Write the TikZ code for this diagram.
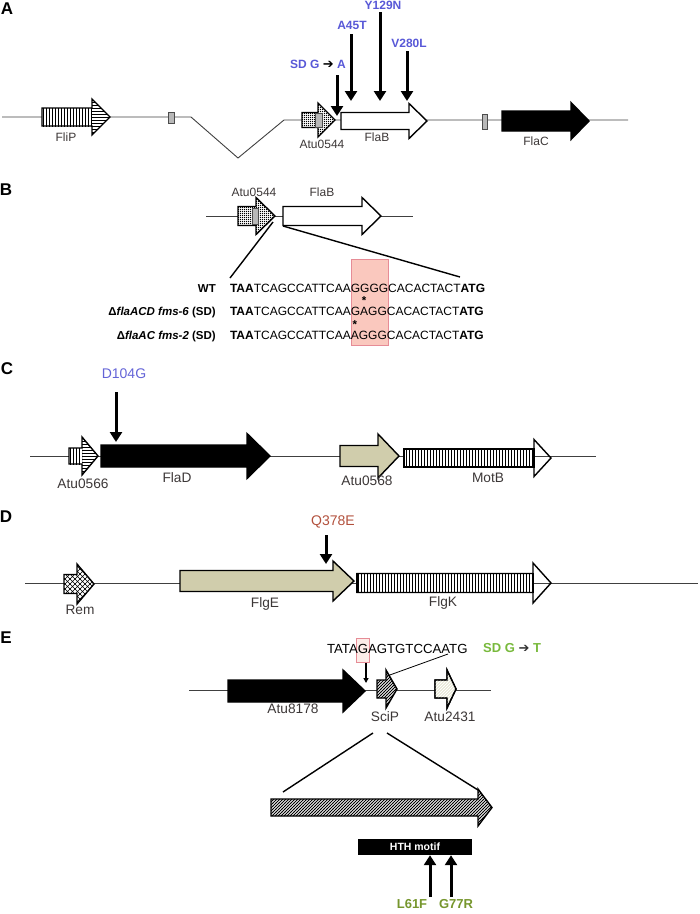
\documentclass[tikz,border=0pt]{standalone}
\usepackage{fontspec}
\setmainfont{Liberation Sans}
\newfontfamily\djv{DejaVu Sans}
\usetikzlibrary{patterns,arrows.meta,backgrounds}

\definecolor{lblc}{RGB}{60,55,55}
\definecolor{bluA}{RGB}{88,88,215}
\definecolor{bluC}{RGB}{100,100,215}
\definecolor{redD}{RGB}{178,80,60}
\definecolor{grnE}{RGB}{120,185,60}
\definecolor{grnL}{RGB}{118,150,45}
\definecolor{khaki}{RGB}{208,205,172}
\definecolor{khakiL}{RGB}{228,228,208}
\definecolor{pinkF}{RGB}{250,200,190}
\definecolor{pinkD}{RGB}{230,140,150}

\pgfdeclarepatternformonly{vstripes}{\pgfqpoint{-1pt}{-1pt}}{\pgfqpoint{4pt}{4pt}}{\pgfqpoint{3pt}{3pt}}{%
  \pgfsetlinewidth{0.9pt}%
  \pgfpathmoveto{\pgfqpoint{1.5pt}{-1pt}}\pgfpathlineto{\pgfqpoint{1.5pt}{4pt}}\pgfusepath{stroke}}
\pgfdeclarepatternformonly{hstripes}{\pgfqpoint{-1pt}{-1pt}}{\pgfqpoint{4pt}{4pt}}{\pgfqpoint{3pt}{3pt}}{%
  \pgfsetlinewidth{0.9pt}%
  \pgfpathmoveto{\pgfqpoint{-1pt}{1.5pt}}\pgfpathlineto{\pgfqpoint{4pt}{1.5pt}}\pgfusepath{stroke}}
\pgfdeclarepatternformonly{nestripes}{\pgfqpoint{-1pt}{-1pt}}{\pgfqpoint{4pt}{4pt}}{\pgfqpoint{3pt}{3pt}}{%
  \pgfsetlinewidth{0.8pt}%
  \pgfpathmoveto{\pgfqpoint{-0.2pt}{-0.2pt}}\pgfpathlineto{\pgfqpoint{3.2pt}{3.2pt}}\pgfusepath{stroke}}
\pgfdeclarepatternformonly{densedots}{\pgfqpoint{0pt}{0pt}}{\pgfqpoint{2pt}{2pt}}{\pgfqpoint{2pt}{2pt}}{%
  \pgfpathrectangle{\pgfqpoint{0pt}{0pt}}{\pgfqpoint{1.5pt}{1.5pt}}\pgfusepath{fill}}
\pgfdeclarepatternformonly{diamonds}{\pgfqpoint{-1pt}{-1pt}}{\pgfqpoint{6pt}{6pt}}{\pgfqpoint{5pt}{5pt}}{%
  \pgfsetlinewidth{0.7pt}%
  \pgfpathmoveto{\pgfqpoint{-0.5pt}{-0.5pt}}\pgfpathlineto{\pgfqpoint{5.5pt}{5.5pt}}%
  \pgfpathmoveto{\pgfqpoint{-0.5pt}{5.5pt}}\pgfpathlineto{\pgfqpoint{5.5pt}{-0.5pt}}\pgfusepath{stroke}}

% style, x0, x head, x tip, y centre, body half, head half
\newcommand{\gene}[7]{\path[#1] (#2,#5-#6) -- (#3,#5-#6) -- (#3,#5-#7) -- (#4,#5) -- (#3,#5+#7) -- (#3,#5+#6) -- (#2,#5+#6) -- cycle;}
% split-pattern gene: head horizontal stripes
\newcommand{\splitgene}[5]{%
  \fill[white] (#1,#4-#5) rectangle (#2,#4+#5);
  \fill[white] (#2,#4-#5) -- (#3,#4) -- (#2,#4+#5) -- cycle;
  \fill[pattern=hstripes] (#2,#4-#5) -- (#3,#4) -- (#2,#4+#5) -- cycle;}

\begin{document}
\begin{tikzpicture}[x=1pt,y=-1pt,
  gout/.style={draw=black,line width=1.4pt,line join=miter},
  bline/.style={draw=black!75,line width=0.9pt},
  zline/.style={draw=black,line width=1.4pt},
  mut/.style={draw=black,line width=3pt,-{Triangle[length=10pt,width=12pt]}},
  thinarrow/.style={draw=black,line width=1.2pt,-{Triangle[length=5pt,width=5pt]}},
  graybox/.style={fill=black!28,draw=black!70,line width=0.6pt},
  glabel/.style={font=\fontsize{12}{14}\selectfont,text=lblc,inner sep=0pt},
  glabelL/.style={font=\fontsize{13.7}{15}\selectfont,text=lblc,inner sep=0pt},
  plabel/.style={font=\fontsize{17}{19}\selectfont\bfseries,inner sep=0pt},
  mutA/.style={font=\fontsize{12}{14}\selectfont\bfseries,text=bluA,inner sep=0pt},
  mutC/.style={font=\fontsize{14}{16}\selectfont,inner sep=0pt},
  seq/.style={font=\fontsize{12}{14}\selectfont,inner sep=0pt,outer sep=0pt,anchor=base west},
  seqE/.style={font=\fontsize{13.2}{15}\selectfont,inner sep=0pt,outer sep=0pt,anchor=base west},
  rowlab/.style={font=\fontsize{11.5}{14}\selectfont\bfseries,inner sep=0pt,anchor=base east},
  ast/.style={font=\fontsize{11.5}{13}\selectfont\bfseries,inner sep=0pt,anchor=base},
  mutE/.style={font=\fontsize{13}{15}\selectfont\bfseries,text=grnL,inner sep=0pt}]
\useasboundingbox (0,0) rectangle (700,914);

%%%%%%%%%%%%%%%% Panel A
\node[plabel] (pA) at (7,9) {A};
\draw[bline] (2,117) -- (191,117) -- (238,158) -- (284,120) -- (628,120);
\draw[graybox] (168,112) rectangle (174,123);
\draw[graybox] (482,114) rectangle (487,129);
\splitgene{42}{92}{110}{117}{18}
\fill[pattern=vstripes] (42,108) rectangle (92,126);
\gene{gout}{42}{92}{110}{117}{9}{18}
\gene{gout,preaction={fill=white},pattern=densedots}{302}{318}{335}{120}{7.5}{17}
\draw[graybox] (315,113) rectangle (322,127);
\gene{gout,fill=white}{341}{409}{427}{121}{8.5}{17.5}
\gene{gout,fill=black}{502}{571}{589}{121}{10}{18.5}
\node[glabel] (lFliP) at (66,137) {FliP};
\node[glabel] (lAtuA) at (322,144) {Atu0544};
\node[glabel] (lFlaB) at (377,137) {FlaB};
\node[glabel] (lFlaC) at (536,141) {FlaC};
\node[mutA] (mSD) at (318,64) {SD G {\djv\color{black}\fontsize{13}{14}\selectfont ➔} A};
\node[mutA] (mA45) at (352,25) {A45T};
\node[mutA] (mY129) at (383,5.5) {Y129N};
\node[mutA] (mV280) at (409,43) {V280L};
\coordinate (s1a) at (337,75);  \coordinate (s1b) at (337,116);
\coordinate (s2a) at (351,34);  \coordinate (s2b) at (351,101);
\coordinate (s3a) at (380,12);  \coordinate (s3b) at (380,101);
\coordinate (s4a) at (407,51);  \coordinate (s4b) at (407,101);
\draw[mut] (s1a) -- (s1b);
\draw[mut] (s2a) -- (s2b);
\draw[mut] (s3a) -- (s3b);
\draw[mut] (s4a) -- (s4b);

%%%%%%%%%%%%%%%% Panel B
\node[plabel] (pB) at (6,190) {B};
\draw[bline] (206,216) -- (413,216);
\gene{gout,preaction={fill=white},pattern=densedots}{238}{256}{275}{216}{9.5}{18.5}
\draw[graybox] (252,208) rectangle (258,224);
\gene{gout,fill=white}{283}{362}{381}{216}{9.5}{18.5}
\node[glabel] (lAtuB) at (254,192) {Atu0544};
\node[glabel] (lFlaBB) at (322,192) {FlaB};
\coordinate (zb1) at (273,222); \coordinate (zb2) at (230,278);
\coordinate (zb3) at (283,226); \coordinate (zb4) at (460,277);
\draw[zline] (zb1) -- (zb2);
\draw[zline] (zb3) -- (zb4);

\node[seq] (r1a) at (230,292.3) {\textbf{TAA}TCAGCCATTCAA};
\node[seq] (r1b) at (r1a.base east) {GGGG};
\node[seq] (r1c) at (r1b.base east) {CACACTACT\textbf{ATG}};
\node[seq] (r2a) at (230,315.3) {\textbf{TAA}TCAGCCATTCAA};
\node[seq] (r2b) at (r2a.base east) {G};
\node[seq] (r2c) at (r2b.base east) {A};
\node[seq] (r2d) at (r2c.base east) {GG};
\node[seq] (r2e) at (r2d.base east) {CACACTACT\textbf{ATG}};
\node[seq] (r3a) at (230,339.3) {\textbf{TAA}TCAGCCATTCAA};
\node[seq] (r3b) at (r3a.base east) {A};
\node[seq] (r3c) at (r3b.base east) {GGG};
\node[seq] (r3d) at (r3c.base east) {CACACTACT\textbf{ATG}};
\node[rowlab] (wt) at (216,292.3) {WT};
\node[rowlab] (fms6) at (216,315.3) {Δ\textit{flaACD fms-6} (SD)};
\node[rowlab] (fms2) at (216,339.3) {Δ\textit{flaAC fms-2} (SD)};
\coordinate (as2) at (0,304.8);
\coordinate (as3) at (0,328.8);
\node[ast] (st2) at (r2c.base |- as2) {*};
\node[ast] (st3) at (r3b.base |- as3) {*};
\coordinate (pk1) at (0,259);
\coordinate (pk2) at (0,345);
\begin{scope}[on background layer]
\filldraw[fill=pinkF,draw=pinkD,line width=0.5pt] (r1b.west |- pk1) rectangle (r1b.east |- pk2);
\end{scope}

%%%%%%%%%%%%%%%% Panel C
\node[plabel] (pC) at (7,369) {C};
\draw[bline] (30,456) -- (596,456);
\splitgene{69}{82}{98}{456}{19}
\fill[pattern=vstripes] (69,448) rectangle (82,464);
\gene{gout}{69}{82}{98}{456}{8}{19}
\gene{gout,fill=black}{101}{247}{270}{456}{11}{22.5}
\gene{gout,fill=khaki}{340}{378}{399}{456}{10.5}{22}
\gene{gout,preaction={fill=white},pattern=vstripes}{404}{534}{534}{458}{9}{9}
\gene{gout}{404}{534}{551}{458}{9}{18.5}
\node[glabelL] (lAtu66) at (83,484) {Atu0566};
\node[glabelL] (lFlaD) at (177,478) {FlaD};
\node[glabelL] (lAtu68) at (367,481) {Atu0568};
\node[glabelL] (lMotB) at (488,478) {MotB};
\node[mutC,text=bluC] (mD104) at (124,374) {D104G};
\coordinate (c1a) at (116,392); \coordinate (c1b) at (116,442);
\draw[mut] (c1a) -- (c1b);

%%%%%%%%%%%%%%%% Panel D
\node[plabel] (pD) at (6,517) {D};
\draw[bline] (25,583) -- (698,583);
\gene{gout,preaction={fill=white},pattern=diamonds}{64}{77}{94}{584}{9.5}{20}
\gene{gout,fill=khaki}{180}{333}{354}{581}{10.5}{20}
\gene{gout,preaction={fill=white},pattern=vstripes}{357}{533}{533}{583}{9.5}{9.5}
\gene{gout}{357}{533}{551}{583}{9.5}{20}
\node[glabelL] (lRem) at (80,610) {Rem};
\node[glabelL] (lFlgE) at (265,604) {FlgE};
\node[glabelL] (lFlgK) at (443,603) {FlgK};
\node[mutC,text=redD] (mQ378) at (333,522) {Q378E};
\coordinate (d1a) at (326,535); \coordinate (d1b) at (326,564);
\draw[mut] (d1a) -- (d1b);

%%%%%%%%%%%%%%%% Panel E
\node[plabel] (pE) at (6,638) {E};
\draw[bline] (189,690) -- (491,690);
\gene{gout,fill=black}{228}{343}{365}{691}{11}{21}
\gene{gout,preaction={fill=white},pattern=nestripes}{377}{386}{397}{689}{9}{19}
\gene{gout,fill=khakiL,postaction={pattern=nestripes,pattern color=white}}{435}{447}{456}{689}{9}{19}
\gene{draw=black,line width=1.4pt,line join=miter}{435}{447}{456}{689}{9}{19}
\node[glabelL] (lAtu78) at (293,709) {Atu8178};
\node[glabelL] (lSciP) at (385,717) {SciP};
\node[glabelL] (lAtu31) at (450,717) {Atu2431};

\node[seqE] (e1) at (327,653) {TATA};
\node[seqE] (e2) at (e1.base east) {G};
\node[seqE] (e3) at (e2.base east) {AGTGTCCAATG};
\coordinate (pe1) at (0,638);
\coordinate (pe2) at (0,662);
\begin{scope}[on background layer]
\filldraw[fill=pinkF!35,draw=pinkD,line width=0.6pt] ([xshift=-1pt]e2.west |- pe1) rectangle ([xshift=1pt]e2.east |- pe2);
\end{scope}
\node[font=\fontsize{13}{15}\selectfont\bfseries,text=grnE,inner sep=0pt,anchor=west] (sdT) at (483,648) {SD G {\djv\color{black!80}\fontsize{13}{14}\selectfont ➔} T};
\coordinate (ea1) at (366,663); \coordinate (ea2) at (366,683);
\draw[thinarrow] (ea1) -- (ea2);
\coordinate (el1) at (387,676); \coordinate (el2) at (448,654);
\draw[draw=black,line width=0.8pt] (el1) -- (el2);

\coordinate (ze1) at (373,733); \coordinate (ze2) at (283,792);
\coordinate (ze3) at (387,733); \coordinate (ze4) at (478,790);
\draw[zline] (ze1) -- (ze2);
\draw[zline] (ze3) -- (ze4);
\gene{gout,preaction={fill=white},pattern=nestripes}{271}{478}{492}{807.5}{8.5}{18.5}
\node[fill=black,text=white,minimum width=114,minimum height=16,inner sep=0pt,font=\fontsize{10.5}{12}\selectfont\bfseries] (hth) at (415,847) {HTH motif};
\node[mutE] (mL61) at (412,904) {L61F};
\node[mutE] (mG77) at (456,904) {G77R};
\coordinate (u1a) at (430,897); \coordinate (u2a) at (451,897);
\draw[mut] (u1a) -- (u1a |- hth.south);
\draw[mut] (u2a) -- (u2a |- hth.south);
\end{tikzpicture}
\end{document}
